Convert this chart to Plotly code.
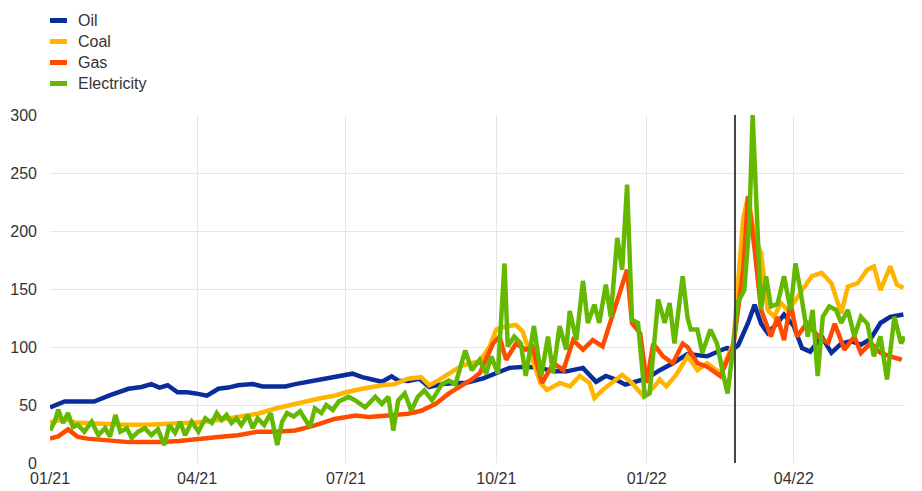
import pandas as pd
import plotly.graph_objects as go

# Índices (01/21 = inicio)
base = pd.Timestamp("2021-01-01")

oil_day = [0, 5, 9, 18, 27, 36, 42, 48, 56, 62, 67, 72, 78, 84, 89, 96, 103, 109, 115, 124,
           130, 138, 144, 150, 158, 167, 174, 181, 185, 191, 199, 203, 209, 213, 219, 226, 232,
           240, 248, 254, 265, 273, 281, 291, 300, 308, 316, 326, 334, 340, 346, 352, 358, 365,
           373, 381, 390, 396, 402, 410, 414, 418, 421, 427, 431, 435, 439, 445, 449, 455, 460,
           465, 472, 478, 484, 490, 496, 502, 508, 514, 522]
oil_val = [48, 51, 53, 53, 53, 58, 61, 64, 65.5, 68, 65, 67, 61, 61, 60, 58, 64, 65, 67, 68,
           66, 65.5, 66, 68, 70, 72.7, 74, 75.6, 77, 74, 71, 70, 74.7, 71, 70.7, 72.7, 65.5,
           68, 69, 69, 73, 77.6, 82, 83, 82, 79, 79, 82, 70, 75, 72, 67.5, 70, 73,
           80, 86, 94, 93, 92, 97, 99, 98, 101.7, 120.7, 136.5, 120, 112, 120.7, 128, 118, 99,
           96, 109, 95, 103, 105, 102, 107, 120.7, 126, 128]

coal_day = [0, 9, 15, 30, 45, 60, 75, 90, 103, 115, 127, 138, 150, 159, 166, 174, 181, 191, 203, 211,
            219, 227, 232, 236, 244, 252, 258, 263, 269, 273, 279, 285, 289, 293, 300, 304, 312,
            318, 324, 330, 333, 338, 344, 350, 356, 363, 369, 373, 377, 383, 390, 396, 402, 410,
            418, 424, 427, 431, 435, 439, 443, 447, 451, 455, 460, 466, 472, 478, 484, 488, 494,
            500, 504, 508, 514, 518, 522]
coal_val = [35, 38, 35, 34, 33, 33, 34, 35, 37, 40, 42.5, 47, 51, 54, 56, 58, 61, 64, 67, 68,
            72.7, 74, 67, 70, 77, 84, 86, 88, 100.5, 115, 118, 119, 113.5, 97.7, 69, 63, 69,
            66, 75, 69, 56, 63, 69, 76, 69, 57.5, 64.6, 72, 66, 76, 92, 80, 86, 77.6,
            103, 210, 230, 195, 181, 132, 126, 138, 132, 138, 149, 161, 164, 155, 129, 152, 155,
            166.7, 169.5, 149, 169.5, 153.7, 151]

gas_day = [0, 5, 11, 17, 23, 30, 38, 48, 58, 68, 79, 90, 103, 115, 127, 138, 150, 162, 174, 187,
           195, 207, 219, 227, 236, 244, 252, 258, 263, 271, 275, 279, 285, 291, 295, 301, 308,
           314, 320, 326, 332, 338, 342, 348, 353, 356, 361, 365, 369, 375, 381, 387, 390, 396,
           402, 410, 418, 424, 427, 431, 435, 441, 445, 449, 453, 457, 463, 470, 476, 480, 486,
           492, 496, 502, 508, 514, 521]
gas_val = [21, 23, 29, 22.5, 21, 20, 19.5, 18, 18, 18, 19, 21, 22.4, 24, 27, 27, 28, 32.5, 38, 41,
           39.7, 41, 42.5, 45, 51, 60, 67, 72, 77.6, 103, 109, 89, 103, 97.7, 100.5, 69, 86,
           80, 106, 97.7, 106, 100.5, 118, 143.7, 166.7, 120.7, 112, 69, 103, 92, 86, 103, 100, 86,
           83, 75, 100.6, 166.7, 230, 184, 132, 109, 126, 106, 138, 109, 120.7, 109, 103.4, 120, 97.7,
           109, 94.8, 103.4, 95, 92, 89]

elec_day = [0, 3, 5, 8, 11, 14, 17, 21, 25.5, 29.6, 33.7, 36.7, 40, 43, 47, 50, 54, 58, 62, 66,
            70, 73, 76.5, 79.6, 82.6, 86.7, 90.8, 95, 99, 102, 105, 108, 111, 114, 117, 121, 124,
            127, 131, 135, 139, 142, 145, 149, 153, 156, 159, 162, 166, 169, 173, 176.5,
            182.6, 186.7, 192.8, 199, 203, 207, 210, 213, 217, 221, 225, 229, 233.7, 239.8,
            243.9, 248, 254, 258, 262.8, 266.8, 269.9, 274, 278, 280, 284, 288, 291, 296, 300.5,
            304.6, 307.7, 311.7, 315.8, 317.9, 322, 326, 329, 333, 336, 340, 343, 347, 350, 353,
            356, 359.7, 363.8, 366.8, 372, 376, 379, 382, 387, 390, 392, 396, 399, 404, 408, 412,
            414.5, 417.5, 420.6, 424.7, 427.8, 429.8, 432.9, 434.9, 438, 441, 445, 449, 453, 456,
            459, 463.5, 466.5, 469.6, 472.7, 476.7, 480.8, 484, 488, 492, 496, 500, 504, 508, 512,
            516.5, 520.6, 522.6]
elec_val = [28, 36, 46, 34.5, 43, 31, 33, 27, 35.6, 24, 30, 22.7, 41.4, 27, 30, 21.6, 27, 30, 24, 29,
            15.5, 32.7, 26, 35.6, 24, 35.6, 27, 38.5, 34.5, 43, 37, 41.4, 34.5, 38.5, 32.7, 41.4, 30,
            38.5, 32.7, 43, 15.5, 35.6, 43, 40, 44.5, 37, 31, 47, 43, 50, 45.7, 52.9,
            57, 54, 48, 57, 51, 57, 28, 54, 60, 45, 57, 62.6, 54, 68,
            71, 68, 97, 80, 89, 77, 92, 77, 172, 100.5, 109, 103, 75, 118, 75,
            109, 77.6, 118, 97.7, 131, 106, 157, 120.7, 136.5, 120.7, 153.7, 126, 194, 166.7, 240,
            123.5, 120.7, 57.5, 60, 141, 120.7, 138, 103, 161, 125, 115, 115, 95, 115, 103, 75,
            60, 95, 138, 149, 207, 300, 201, 132, 161, 135, 137, 161, 132, 172,
            149, 109, 132, 75, 126, 135, 132, 120.7, 132, 109, 126, 120, 92, 109, 72,
            126, 103, 109]

names = ["Oil", "Coal", "Gas", "Electricity"]
colors = ["#0a2d9c", "#ffb400", "#ff4b00", "#65b800"]
series = [(oil_day, oil_val), (coal_day, coal_val), (gas_day, gas_val), (elec_day, elec_val)]

invasion_date = "2022-02-24"

fig = go.Figure()

for name, color, (d, v) in zip(names, colors, series):
    fechas = base + pd.to_timedelta(d, unit="D")
    fig.add_trace(go.Scatter(
        x=fechas, y=v, mode="lines", name=name,
        line=dict(color=color, width=4.5),
        showlegend=False
    ))

# Línea vertical
fig.add_shape(type="line", xref="x", yref="y", x0=invasion_date, x1=invasion_date,
              y0=0, y1=300, line=dict(color="#444444", width=2))

# Leyenda manual (símbolos cortos y gruesos)
leg_y = [20.5, 41.5, 62.5, 83.5]
for name, color, yy in zip(names, colors, leg_y):
    fig.add_shape(type="line", xref="paper", yref="paper",
                  x0=0.0, x1=0.0199,
                  y0=1 + (115 - yy) / 348, y1=1 + (115 - yy) / 348,
                  line=dict(color=color, width=5))
    fig.add_annotation(text=name, xref="paper", yref="paper",
                       x=0.0305, y=1 + (115 - yy) / 348, xanchor="left", yanchor="middle",
                       showarrow=False, font=dict(size=16, color="#333333"))

# La página añade 8 px de margen al cuerpo: se compensa en tamaño y márgenes
fig.update_layout(
    width=914, height=483,
    margin=dict(l=42, r=17, t=107, b=28, autoexpand=False),
    paper_bgcolor="white", plot_bgcolor="white",
    font=dict(family="Arial, Liberation Sans, sans-serif", size=16, color="#333333"),
    showlegend=False,
)
fig.update_xaxes(
    range=[base, base + pd.Timedelta(days=523)],
    tickformat="%m/%y", dtick="M3", tick0="2021-01-01",
    showgrid=True, gridcolor="#e6e6e6", gridwidth=1,
    zeroline=False, showline=False, ticks="", automargin=False,
    ticklabelstandoff=4,
    tickfont=dict(size=16, color="#333333"),
)
fig.update_yaxes(
    range=[0, 300], dtick=50,
    showgrid=True, gridcolor="#e6e6e6", gridwidth=1,
    zeroline=False, showline=False, ticks="", automargin=False,
    ticklabelstandoff=12,
    tickfont=dict(size=16, color="#333333"),
)

fig.write_html("out.html")
